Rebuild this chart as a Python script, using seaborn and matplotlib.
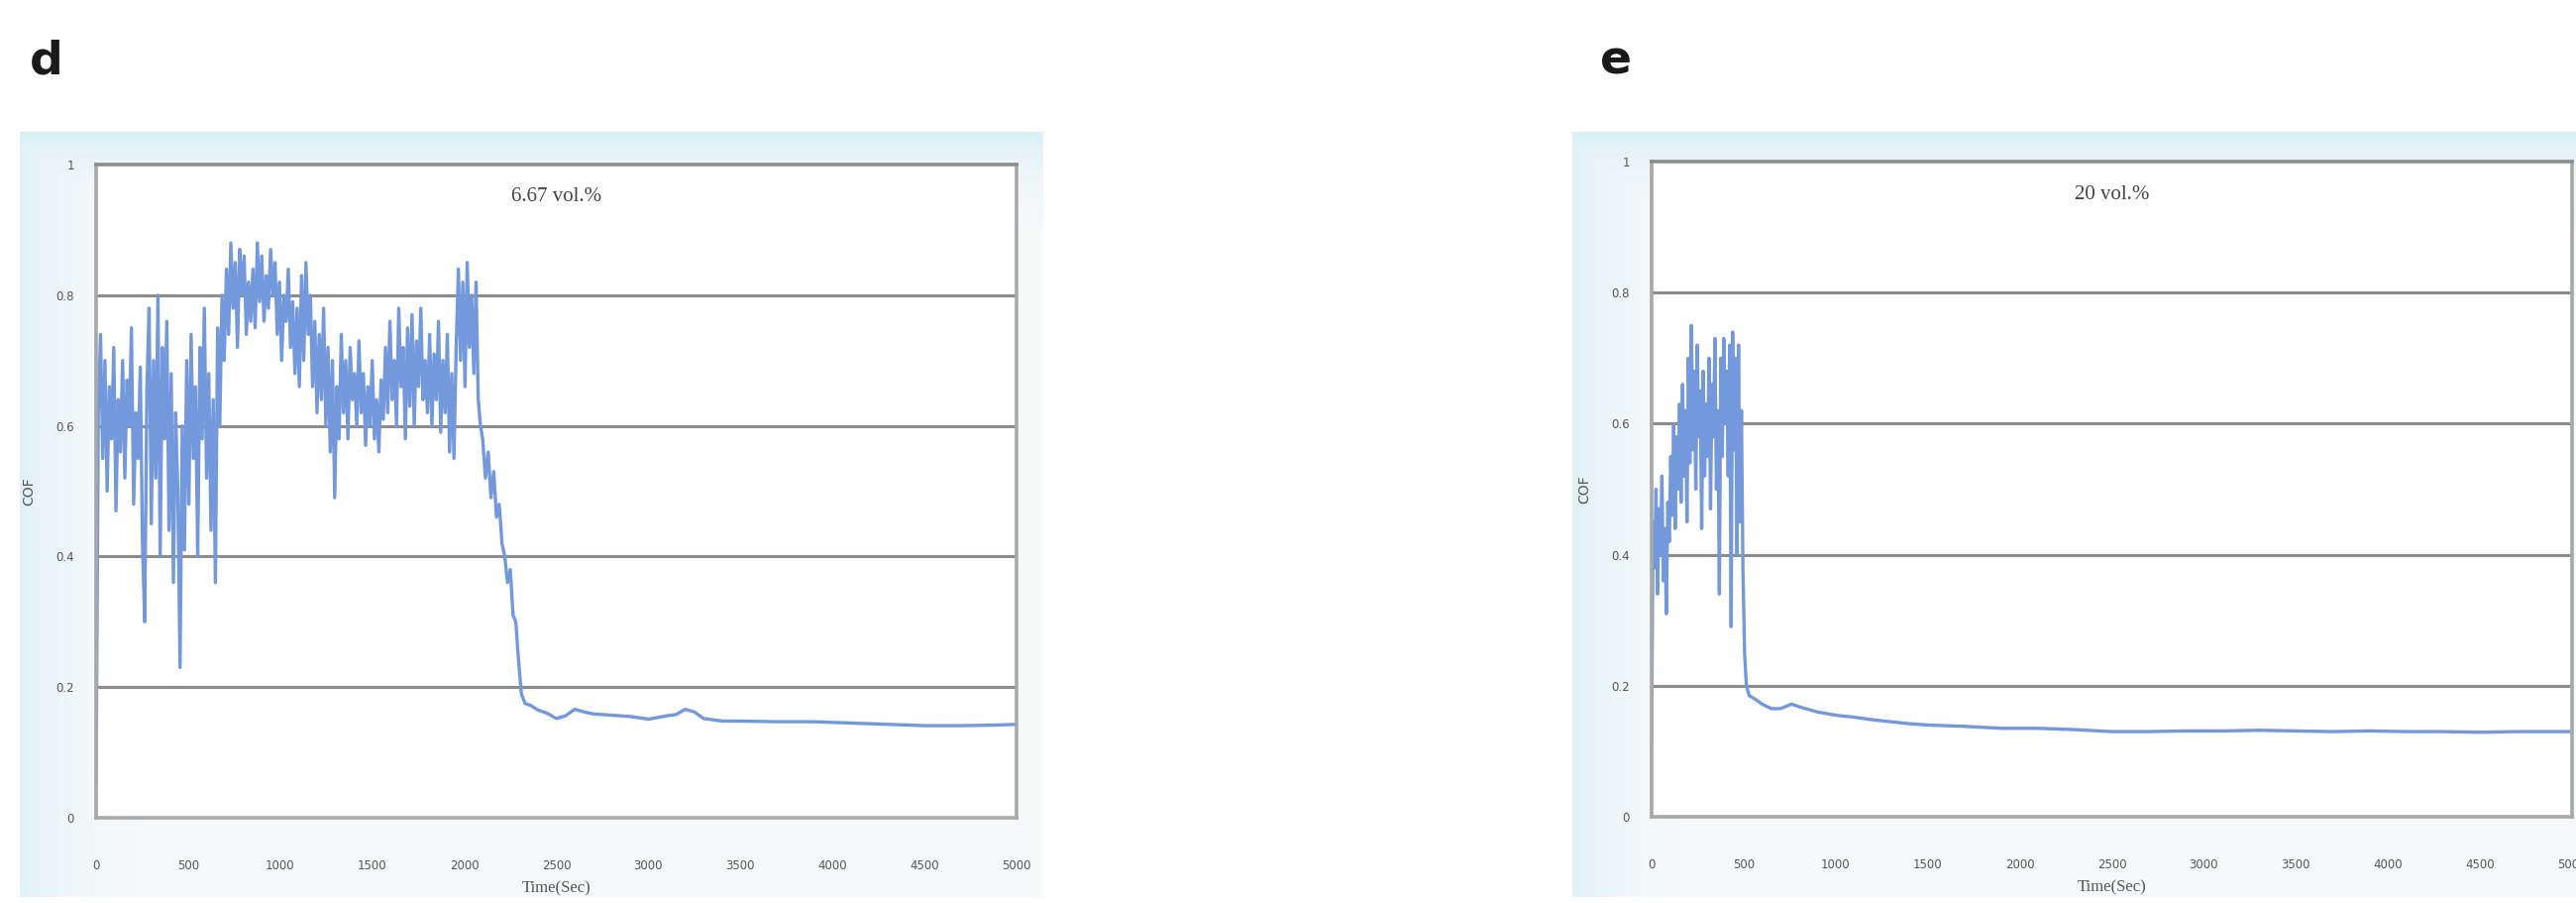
import numpy as np
import pandas as pd
import seaborn as sns
import matplotlib.pyplot as plt

# panel d : 6.67 vol.%  (noisy running-in part logged every 12 s)
d_noise_step = 12
d_start = [(0, 0.05)]
d_noise = [0.62, 0.74, 0.55, 0.70, 0.50, 0.66, 0.58, 0.72, 0.47, 0.64,
           0.56, 0.70, 0.52, 0.67, 0.60, 0.75, 0.48, 0.62, 0.55, 0.69,
           0.42, 0.30, 0.66, 0.78, 0.45, 0.70, 0.52, 0.80, 0.40, 0.72,
           0.58, 0.76, 0.44, 0.68, 0.36, 0.62, 0.50, 0.23, 0.60, 0.41,
           0.70, 0.48, 0.74, 0.55, 0.66, 0.40, 0.72, 0.58, 0.78, 0.52,
           0.68, 0.44, 0.64, 0.36, 0.75, 0.60, 0.80, 0.70, 0.84, 0.74,
           0.88, 0.78, 0.85, 0.72, 0.87, 0.80, 0.86, 0.74, 0.82, 0.76,
           0.84, 0.75, 0.88, 0.79, 0.86, 0.76, 0.83, 0.78, 0.87, 0.80,
           0.85, 0.74, 0.82, 0.70, 0.80, 0.76, 0.84, 0.72, 0.79, 0.68,
           0.78, 0.66, 0.83, 0.70, 0.85, 0.74, 0.80, 0.66, 0.76, 0.62,
           0.74, 0.64, 0.78, 0.60, 0.72, 0.56, 0.70, 0.49, 0.66, 0.58,
           0.74, 0.62, 0.70, 0.58, 0.72, 0.64, 0.68, 0.60, 0.73, 0.62,
           0.68, 0.57, 0.66, 0.60, 0.70, 0.58, 0.64, 0.56, 0.67, 0.61,
           0.72, 0.62, 0.76, 0.64, 0.70, 0.60, 0.78, 0.66, 0.72, 0.58,
           0.75, 0.63, 0.77, 0.60, 0.73, 0.66, 0.78, 0.64, 0.70, 0.62,
           0.74, 0.60, 0.71, 0.64, 0.76, 0.59, 0.70, 0.62, 0.74, 0.56,
           0.68, 0.55, 0.72, 0.84, 0.70, 0.82, 0.66, 0.85, 0.72, 0.80,
           0.68, 0.82, 0.64, 0.60]
d_tail_time = [2100, 2115, 2130, 2145, 2160, 2175, 2190, 2205, 2220, 2235,
               2250, 2265, 2280, 2295, 2310, 2330, 2360, 2400, 2450, 2500,
               2550, 2600, 2650, 2700, 2800, 2900, 3000, 3100, 3150, 3200,
               3250, 3300, 3400, 3500, 3700, 3900, 4100, 4300, 4500, 4700,
               4900, 5000]
d_tail_cof = [0.58, 0.52, 0.56, 0.49, 0.53, 0.46, 0.48, 0.42, 0.40, 0.36,
              0.38, 0.31, 0.30, 0.24, 0.19, 0.175, 0.172, 0.165, 0.160, 0.152,
              0.156, 0.166, 0.162, 0.159, 0.157, 0.155, 0.151, 0.156, 0.158, 0.166,
              0.162, 0.152, 0.148, 0.148, 0.147, 0.147, 0.145, 0.143, 0.141, 0.141,
              0.142, 0.143]

# panel e : 20 vol.%  (running-in logged every 8 s)
e_noise_step = 8
e_start = [(0, 0.12)]
e_noise = [0.45, 0.38, 0.50, 0.34, 0.47, 0.40, 0.52, 0.36, 0.44, 0.31,
           0.48, 0.42, 0.55, 0.46, 0.60, 0.44, 0.58, 0.50, 0.63, 0.48,
           0.66, 0.52, 0.62, 0.45, 0.70, 0.54, 0.75, 0.56, 0.68, 0.50,
           0.72, 0.58, 0.65, 0.44, 0.68, 0.52, 0.63, 0.55, 0.70, 0.47,
           0.66, 0.58, 0.73, 0.50, 0.62, 0.34, 0.70, 0.55, 0.73, 0.60,
           0.68, 0.52, 0.72, 0.29, 0.74, 0.56, 0.70, 0.40, 0.72, 0.45,
           0.62, 0.38]
e_tail_time = [505, 515, 530, 560, 600, 650, 700, 760, 800, 900,
               1000, 1100, 1200, 1300, 1400, 1500, 1700, 1900, 2100, 2300,
               2500, 2700, 2900, 3100, 3300, 3500, 3700, 3900, 4100, 4300,
               4500, 4700, 4900, 5000]
e_tail_cof = [0.25, 0.20, 0.185, 0.18, 0.172, 0.165, 0.165, 0.172, 0.168, 0.160,
              0.155, 0.152, 0.148, 0.145, 0.142, 0.140, 0.138, 0.135, 0.135, 0.133,
              0.130, 0.130, 0.131, 0.131, 0.132, 0.131, 0.130, 0.131, 0.130, 0.130,
              0.129, 0.130, 0.130, 0.130]

x_ticks = [0, 500, 1000, 1500, 2000, 2500, 3000, 3500, 4000, 4500, 5000]
y_ticks = [0, 0.2, 0.4, 0.6, 0.8, 1]
y_tick_labels = ['0', '0.2', '0.4', '0.6', '0.8', '1']


def build_series(start, noise, step, tail_t, tail_c):
    t = [p[0] for p in start] + [step * (i + 1) for i in range(len(noise))] + tail_t
    c = [p[1] for p in start] + noise + tail_c
    return pd.DataFrame({'Time': t, 'COF': c})


df_d = build_series(d_start, d_noise, d_noise_step, d_tail_time, d_tail_cof)
df_e = build_series(e_start, e_noise, e_noise_step, e_tail_time, e_tail_cof)

sns.set_style('white')
plt.rcParams['font.family'] = ['DejaVu Sans']

fig = plt.figure(figsize=(26, 9.11), dpi=100)
fig.patch.set_facecolor('white')


def panel_background(x0, y0, w, h):
    # excel-ish chart area: light blue fading from top / left edge
    bg = fig.add_axes([x0, y0, w, h], zorder=0)
    ny, nx = 200, 400
    yy = np.linspace(0, 1, ny)[:, None]
    xx = np.linspace(0, 1, nx)[None, :]
    a = np.maximum(np.exp(-yy / 0.05), 0.8 * np.exp(-xx / 0.05))
    a = np.clip(a, 0.08, 1)
    top = np.array([0.85, 0.94, 0.96])
    bot = np.array([0.975, 0.98, 0.985])
    img = bot[None, None, :] + (top - bot)[None, None, :] * a[:, :, None]
    bg.imshow(img, aspect='auto', extent=[0, 1, 0, 1])
    bg.set_axis_off()


panel_background(20 / 2600, 1 - 905 / 911, 1033 / 2600, 772 / 911)
panel_background(1587 / 2600, 1 - 905 / 911, 1013 / 2600, 772 / 911)

ax_d = fig.add_axes([97 / 2600, 1 - 825 / 911, 929 / 2600, 659 / 911], zorder=2)
ax_e = fig.add_axes([1667 / 2600, 1 - 824 / 911, 929 / 2600, 661 / 911], zorder=2)

line_col = '#7399dc'
grid_col = '#8c8c8c'

for ax, df, tag, conc, letter_x in [(ax_d, df_d, 'd', '6.67 vol.%', 30 / 2600),
                                    (ax_e, df_e, 'e', '20 vol.%', 1615 / 2600)]:
    ax.set_facecolor('white')
    sns.lineplot(data=df, x='Time', y='COF', ax=ax, color=line_col,
                 linewidth=2.4, estimator=None, sort=False)
    ax.set_xlim(0, 5000)
    ax.set_ylim(0, 1)
    for yv in [0.2, 0.4, 0.6, 0.8]:
        ax.axhline(yv, color=grid_col, linewidth=2.2, zorder=0)
    for s in ax.spines.values():
        s.set_color('#a8a8a8')
        s.set_linewidth(2.6)
    ax.spines['top'].set_color(grid_col)
    ax.set_xticks(x_ticks)
    ax.set_xticklabels([str(v) for v in x_ticks])
    ax.set_yticks(y_ticks)
    ax.set_yticklabels(y_tick_labels)
    ax.tick_params(axis='x', length=0, pad=30, labelsize=8.5, labelcolor='#555555')
    ax.tick_params(axis='y', length=0, pad=16, labelsize=8.5, labelcolor='#555555')
    ax.set_xlabel('Time(Sec)', fontsize=12, family='Liberation Serif',
                  color='#555555', labelpad=6)
    ax.set_ylabel('COF', fontsize=10, color='#555555', labelpad=14)
    ax.text(0.5, 0.95, conc, transform=ax.transAxes, ha='center', va='center',
            fontsize=15, family='Liberation Serif', color='#444444')
    fig.text(letter_x, 1 - 62 / 911, tag, fontsize=34, fontweight='bold',
             color='#1a1a1a', va='center', ha='left')

fig.savefig('out.png', dpi=100)
